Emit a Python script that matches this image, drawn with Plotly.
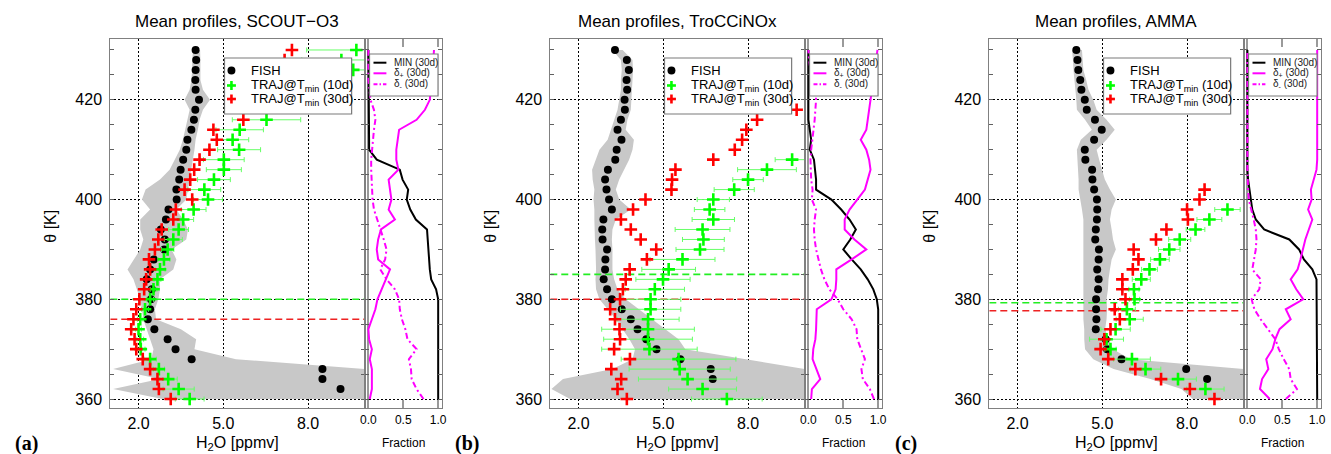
import plotly.graph_objects as go

# ---------------------------------------------------------------------------
# Data: potential temperature levels (K) and mean water vapour profiles (ppmv)
# ---------------------------------------------------------------------------
theta = list(range(360, 432, 2))

campaigns = ["SCOUT\u2212O3", "TroCCiNOx", "AMMA"]
panel_tags = ["(a)", "(b)", "(c)"]

main_ticks = [2.0, 5.0, 8.0]
main_ticktext = ["2.0", "5.0", "8.0"]
frac_ticks = [0.0, 0.5, 1.0]
frac_ticktext = ["0.0", "0.5", "1.0"]
theta_ticks = [360, 380, 400, 420]

legend_main = ["FISH", "TRAJ@T<sub>min</sub> (10d)", "TRAJ@T<sub>min</sub> (30d)"]
legend_frac = ["MIN (30d)", "\u03b4<sub>+</sub> (30d)", "\u03b4<sub>-</sub> (30d)"]

# --- SCOUT-O3 --------------------------------------------------------------
fish_scout = [None, 9.15, 8.51, 8.51, 3.88, 3.31, 3.03, 2.56, 2.33, 2.41,
              2.44, 2.47, 2.29, 2.41, 2.54, 2.91, 2.93, 2.79, 2.97, 3.06,
              3.35, 3.34, 3.44, 3.49, 3.58, 3.69, 3.73, 3.87, 3.96, 4.01,
              4.14, 4.02, 4.01, 4.02, 4.04, 4.02]
fish_lo_scout = [2.85, 1.10, 2.75, 1.10, 2.45, 2.53, 2.41, 2.29, 2.17, 2.12,
                 2.06, 1.94, 1.82, 1.61, 1.85, 2.06, 2.17, 2.06, 2.06, 2.41,
                 2.12, 2.25, 2.76, 3.10, 3.28, 3.46, 3.57, 3.66, 3.73, 3.81,
                 3.63, 3.81, 3.87, 3.90, 3.90, 3.93]
fish_hi_scout = [10.0, 10.0, 10.0, 10.0, 5.45, 3.98, 4.04, 3.50, 2.62, 2.58,
                 2.70, 2.76, 2.76, 3.23, 3.34, 3.17, 3.69, 3.75, 3.58, 3.34,
                 3.69, 3.75, 3.80, 3.85, 3.92, 3.98, 4.02, 4.10, 4.16, 4.28,
                 4.53, 4.28, 4.19, 4.19, 4.19, 4.18]
traj10_scout = [3.81, 3.42, 3.05, 2.72, 2.41, 2.08, 2.06, 2.00, 2.06, 2.23,
                2.41, 2.53, 2.67, 2.76, 2.90, 3.03, 3.23, 3.42, 3.58, 3.95,
                4.46, 4.33, 4.67, 5.02, 5.02, 5.56, 5.33, 5.58, 6.53, None,
                None, None, None, 9.60, 9.18, 9.71]
traj10_err_scout = [0.51, 0.55, 0.32, 0.20, 0.22, 0.15, 0.12, 0.10, 0.10, 0.12,
                    0.12, 0.12, 0.12, 0.18, 0.21, 0.22, 0.32, 0.35, 0.37, 0.44,
                    0.51, 0.58, 0.58, 0.62, 0.72, 0.76, 0.57, 0.84, 1.21, None,
                    None, None, None, 1.50, 1.40, 1.76]
traj30_scout = [3.14, 2.72, 2.67, 2.41, 2.15, 1.92, 1.86, 1.74, 1.82, 1.92,
                2.03, 2.20, 2.27, 2.41, 2.37, 2.58, 2.70, 2.82, 3.23, 3.32,
                3.90, 3.63, 3.83, 3.97, 4.16, 4.51, 4.77, 4.65, 5.71, None,
                None, None, None, None, 7.17, 7.43]
min_scout = [1.00, 1.00, 1.00, 1.00, 1.00, 1.00, 1.00, 1.00, 1.00, 1.00,
             1.00, 0.97, 0.90, 0.88, 0.87, 0.86, 0.85, 0.84, 0.68, 0.60,
             0.55, 0.57, 0.49, 0.45, 0.12, 0.01, 0.01, 0.01, 0.01, 0.00,
             0.00, 0.00, 0.00, 0.00, 0.00, 0.00]
dplus_scout = [0.02, 0.05, 0.05, 0.05, 0.02, 0.05, 0.01, 0.00, 0.05, 0.10,
               0.13, 0.19, 0.24, 0.31, 0.14, 0.12, 0.14, 0.18, 0.38, 0.29,
               0.33, 0.31, 0.29, 0.43, 0.40, 0.40, 0.42, 0.44, 0.69, 0.81,
               0.88, 0.90, 0.91, 0.92, 0.93, 0.94]
dminus_scout = [0.79, 0.69, 0.62, 0.61, 0.58, 0.69, 0.56, 0.53, 0.48, 0.45,
                0.44, 0.38, 0.26, 0.17, 0.24, 0.26, 0.22, 0.17, 0.12, 0.08,
                0.06, 0.05, 0.05, 0.04, 0.04, 0.05, 0.06, 0.08, 0.10, 0.08,
                0.03, 0.01, 0.00, 0.00, 0.00, 0.00]

# --- TroCCiNOx -------------------------------------------------------------
fish_troc = [None, None, 6.75, 6.68, 5.60, 4.76, 4.40, 4.09, 3.85, 3.53,
             3.18, 3.01, 2.89, 2.94, 2.95, 3.01, 2.85, 2.84, 2.88, 3.18,
             3.08, 2.99, 2.94, 3.04, 3.30, 3.35, 3.52, 3.38, 3.50, 3.64,
             3.63, 3.72, 3.70, 3.78, 3.71, 3.29]
fish_lo_troc = [1.70, 1.04, 1.45, 3.20, 3.91, 4.00, 3.80, 3.56, 3.32, 3.03,
                2.74, 2.62, 2.60, 2.62, 2.62, 2.60, 2.58, 2.56, 2.56, 2.56,
                2.53, 2.56, 2.50, 2.48, 2.62, 2.74, 3.03, 3.15, 3.26, 3.38,
                3.44, 3.50, 3.50, 3.53, 3.50, 3.20]
fish_hi_troc = [10.0, 10.0, 10.0, 10.0, 7.88, 5.78, 5.54, 5.07, 4.61, 4.14,
                3.67, 3.38, 3.26, 3.20, 3.20, 3.20, 3.18, 3.20, 3.32, 3.85,
                3.44, 3.32, 3.44, 3.61, 3.79, 3.91, 3.96, 3.67, 3.73, 3.85,
                3.85, 3.88, 3.91, 3.93, 3.91, 3.56]
traj10_troc = [7.25, 6.39, 5.86, 5.58, 5.54, 4.51, 4.46, 4.46, 4.46, 4.55,
               4.55, 4.70, 4.99, 5.19, 5.68, 6.30, 6.42, 6.39, 6.77, 6.64,
               6.77, 7.51, 8.00, 8.67, 9.56, None, None, None, None, None,
               None, None, None, None, None, None]
traj10_err_troc = [1.25, 1.20, 1.74, 1.79, 2.03, 1.69, 1.57, 1.64, 1.10, 1.07,
                   1.07, 1.05, 0.96, 0.95, 1.15, 0.85, 0.74, 0.97, 0.75, 0.54,
                   0.57, 0.71, 0.54, 1.04, 0.60, None, None, None, None, None,
                   None, None, None, None, None, None]
traj30_troc = [3.71, 3.38, 3.51, 3.16, 3.82, 3.26, 3.47, 3.45, 3.29, 3.12,
               3.47, 3.57, 3.67, 3.81, 4.42, 4.75, 4.20, 3.85, 3.50, 3.93,
               4.37, 5.29, 5.31, 5.43, 6.77, 7.53, 7.79, 7.94, 8.32, 9.72,
               None, None, None, None, None, None]
min_troc = [1.00, 1.00, 1.00, 1.00, 1.00, 1.00, 1.00, 1.00, 1.00, 1.00,
            0.98, 0.93, 0.85, 0.75, 0.62, 0.50, 0.60, 0.68, 0.59, 0.47,
            0.33, 0.11, 0.11, 0.10, 0.08, 0.02, 0.04, 0.02, 0.00, 0.00,
            0.00, 0.00, 0.00, 0.00, 0.00, 0.00]
dplus_troc = [0.04, 0.05, 0.17, 0.11, 0.06, 0.07, 0.10, 0.11, 0.12, 0.12,
              0.33, 0.39, 0.40, 0.40, 0.62, 0.83, 0.66, 0.52, 0.52, 0.59,
              0.70, 0.81, 0.85, 0.89, 0.87, 0.83, 0.75, 0.83, 0.85, 0.87,
              0.88, 0.90, 0.93, 0.95, 0.97, 0.99]
dminus_troc = [0.94, 0.88, 0.78, 0.76, 0.81, 0.75, 0.70, 0.69, 0.62, 0.50,
               0.42, 0.30, 0.23, 0.18, 0.14, 0.11, 0.09, 0.08, 0.09, 0.11,
               0.05, 0.06, 0.04, 0.03, 0.03, 0.04, 0.06, 0.08, 0.09, 0.10,
               0.11, 0.10, 0.06, 0.03, 0.01, 0.00]

# --- AMMA ------------------------------------------------------------------
fish_amma = [None, None, 8.71, 7.97, 5.68, 5.17, 5.12, 4.77, 4.79, 4.78,
             4.78, 4.85, 4.87, 4.82, 4.87, 4.88, 4.75, 4.77, 4.81, 4.82,
             4.81, 4.71, 4.65, 4.64, 4.40, 4.38, 4.71, 4.98, 4.74, 4.45,
             4.38, 4.26, 4.22, 4.15, 4.12, 4.08]
fish_lo_amma = [8.20, 7.80, 6.70, 5.40, 4.68, 4.39, 4.36, 4.36, 4.33, 4.33,
                4.33, 4.33, 4.33, 4.33, 4.31, 4.31, 4.33, 4.33, 4.33, 4.28,
                4.22, 4.16, 4.16, 4.14, 4.10, 4.10, 4.24, 4.63, 4.39, 4.10,
                4.08, 4.04, 4.02, 3.98, 3.96, 3.93]
fish_hi_amma = [10.0, 10.0, 10.0, 10.0, 6.00, 5.38, 5.22, 5.10, 5.15, 5.17,
                5.15, 5.20, 5.22, 5.27, 5.33, 5.48, 5.38, 5.33, 5.27, 5.33,
                5.48, 5.27, 5.09, 4.98, 4.89, 4.80, 5.15, 5.44, 5.15, 4.80,
                4.68, 4.51, 4.43, 4.33, 4.31, 4.28]
traj10_amma = [None, 8.65, 7.68, 6.53, 6.05, 5.29, 5.15, 5.47, 5.97, 5.87,
               6.14, 6.12, 6.38, 6.67, 7.04, 7.37, 7.74, 8.30, 8.79, 9.43,
               None, None, None, None, None, None, None, None, None, None,
               None, None, None, None, None, None]
traj10_err_amma = [None, 0.66, 0.65, 0.54, 0.65, 0.20, 0.60, 0.52, 0.48, 0.30,
                   0.18, 0.18, 0.32, 0.28, 0.33, 0.38, 0.39, 0.33, 0.44, 0.45,
                   None, None, None, None, None, None, None, None, None, None,
                   None, None, None, None, None, None]
traj30_amma = [8.97, 8.10, 7.08, 6.17, 5.21, 4.94, 5.07, 5.29, 5.62, 5.44,
               5.82, 5.71, 5.71, 6.08, 6.28, 6.11, 6.90, 7.27, 8.03, 8.00,
               8.44, 8.62, None, None, None, None, None, None, None, None,
               None, None, None, None, None, None]
min_amma = [1.00, 1.00, 1.00, 1.00, 1.00, 1.00, 1.00, 1.00, 1.00, 1.00,
            1.00, 1.00, 0.99, 0.93, 0.81, 0.74, 0.60, 0.24, 0.12, 0.07,
            0.05, 0.02, 0.01, 0.00, 0.00, 0.00, 0.00, 0.00, 0.00, 0.00,
            0.00, 0.00, 0.00, 0.00, 0.00, 0.00]
dplus_amma = [0.32, 0.18, 0.21, 0.30, 0.27, 0.36, 0.40, 0.46, 0.62, 0.55,
              0.80, 0.70, 0.62, 0.72, 0.76, 0.79, 0.83, 0.88, 0.93, 0.87,
              0.92, 0.91, 0.95, 0.99, 1.00, 1.00, 1.00, 1.00, 1.00, 1.00,
              1.00, 1.00, 1.00, 1.00, 1.00, 1.00]
dminus_amma = [0.55, 0.71, 0.62, 0.60, 0.52, 0.45, 0.40, 0.29, 0.19, 0.10,
               0.06, 0.17, 0.19, 0.07, 0.10, 0.12, 0.13, 0.12, 0.09, 0.06,
               0.02, 0.01, 0.00, 0.00, 0.00, 0.00, 0.00, 0.00, 0.00, 0.00,
               0.00, 0.00, 0.00, 0.00, 0.00, 0.00]

# Levels of the cut-offs for both trajectory lengths (K)
cut_10d = [380.0, 385.0, 379.3]
cut_30d = [376.0, 380.0, 377.7]

panels = [
    dict(fish=fish_scout, lo=fish_lo_scout, hi=fish_hi_scout, t10=traj10_scout,
         e10=traj10_err_scout, t30=traj30_scout, mn=min_scout, dp=dplus_scout,
         dm=dminus_scout),
    dict(fish=fish_troc, lo=fish_lo_troc, hi=fish_hi_troc, t10=traj10_troc,
         e10=traj10_err_troc, t30=traj30_troc, mn=min_troc, dp=dplus_troc,
         dm=dminus_troc),
    dict(fish=fish_amma, lo=fish_lo_amma, hi=fish_hi_amma, t10=traj10_amma,
         e10=traj10_err_amma, t30=traj30_amma, mn=min_amma, dp=dplus_amma,
         dm=dminus_amma),
]

# ---------------------------------------------------------------------------
# Geometry (pixels) and styles
# ---------------------------------------------------------------------------
W, H = 1331, 454
PANEL_LEFT = [107, 550, 992]
MAIN_W, FRAC_W = 256, 78
TOP, BOTTOM = 39, 408
X_RANGE = [1.0, 10.0]
F_RANGE = [-0.055, 1.055]
Y_RANGE = [358.2, 432.2]

FONT = "Liberation Sans, Arial, sans-serif"
GREEN = "#00ff00"
GREEN_ERR = "#66ff66"
RED = "#ff0000"
MAGENTA = "#ff00ff"
BAND = "#c8c8c8"
FRAME = "#808080"
GRID_DASH = "2px,2px"


def px(x):
    return x / W


def py(y):
    return 1 - y / H


def ax_names(k):
    return ("xaxis" if k == 1 else f"xaxis{k}",
            "yaxis" if k == 1 else f"yaxis{k}",
            "x" if k == 1 else f"x{k}",
            "y" if k == 1 else f"y{k}")


fig = go.Figure()
layout = dict(
    width=W, height=H,
    margin=dict(l=0, r=0, t=0, b=0),
    paper_bgcolor="white", plot_bgcolor="white",
    showlegend=False,
    font=dict(family=FONT, color="black"),
)
shapes, annotations = [], []
ydom = [py(BOTTOM), py(TOP)]

for i, p in enumerate(panels):
    x0 = PANEL_LEFT[i]
    f0 = x0 + MAIN_W
    km, kf = 2 * i + 1, 2 * i + 2
    xa_m, ya_m, xr_m, yr_m = ax_names(km)
    xa_f, ya_f, xr_f, yr_f = ax_names(kf)

    # ---- axes of the profile panel
    layout[xa_m] = dict(
        domain=[px(x0), px(f0)], range=X_RANGE, anchor=yr_m,
        tickmode="array", tickvals=main_ticks, ticktext=main_ticktext,
        showgrid=True, gridcolor="black", griddash=GRID_DASH, gridwidth=1,
        zeroline=False, showline=True, linecolor=FRAME, linewidth=1,
        mirror=True, ticks="", tickfont=dict(size=16, family=FONT),
        ticklabelstandoff=1, fixedrange=True,
    )
    layout[ya_m] = dict(
        domain=ydom, range=Y_RANGE, anchor=xr_m,
        tickmode="array", tickvals=theta_ticks,
        showgrid=True, gridcolor="black", griddash=GRID_DASH, gridwidth=1,
        zeroline=False, showline=True, linecolor=FRAME, linewidth=1,
        mirror="ticks", ticks="inside", ticklen=4, tickcolor="#606060",
        minor=dict(tickmode="linear", tick0=360, dtick=5, ticks="inside",
                   ticklen=4, tickcolor="#606060"),
        tickfont=dict(size=16, family=FONT), ticklabelstandoff=4,
        fixedrange=True,
    )
    # ---- axes of the fraction panel
    layout[xa_f] = dict(
        domain=[px(f0), px(f0 + FRAC_W)], range=F_RANGE, anchor=yr_f,
        tickmode="array", tickvals=frac_ticks, ticktext=frac_ticktext,
        showgrid=False, zeroline=True, zerolinecolor="#9a9a9a",
        zerolinewidth=1.5, showline=True, linecolor=FRAME, linewidth=1,
        mirror="ticks", ticks="inside", ticklen=8, tickwidth=1.5,
        tickcolor="#9a9a9a", tickfont=dict(size=12, family=FONT),
        ticklabelstandoff=1, fixedrange=True,
    )
    layout[ya_f] = dict(
        domain=ydom, range=Y_RANGE, anchor=xr_f,
        tickmode="array", tickvals=theta_ticks, showticklabels=False,
        showgrid=True, gridcolor="black", griddash=GRID_DASH, gridwidth=1,
        zeroline=False, showline=True, linecolor=FRAME, linewidth=1,
        mirror="ticks", ticks="inside", ticklen=4, tickcolor="#606060",
        minor=dict(tickmode="linear", tick0=360, dtick=5, ticks="inside",
                   ticklen=4, tickcolor="#606060"),
        fixedrange=True,
    )

    # ---- FISH variability band
    fig.add_trace(go.Scatter(
        x=p["lo"] + p["hi"][::-1], y=theta + theta[::-1],
        xaxis=xr_m, yaxis=yr_m, mode="lines", fill="toself",
        fillcolor=BAND, line=dict(width=0), hoverinfo="skip",
    ))
    # ---- cut-off levels
    fig.add_trace(go.Scatter(
        x=X_RANGE, y=[cut_10d[i], cut_10d[i]], xaxis=xr_m, yaxis=yr_m,
        mode="lines", line=dict(color="#22ee22", width=1.6, dash="7px,4px"),
        hoverinfo="skip",
    ))
    fig.add_trace(go.Scatter(
        x=X_RANGE, y=[cut_30d[i], cut_30d[i]], xaxis=xr_m, yaxis=yr_m,
        mode="lines", line=dict(color="#ee2222", width=1.6, dash="7px,4px"),
        hoverinfo="skip",
    ))
    # ---- FISH mean profile
    fig.add_trace(go.Scatter(
        x=p["fish"], y=theta, xaxis=xr_m, yaxis=yr_m, mode="markers",
        marker=dict(symbol="circle", size=8, color="black"), name=legend_main[0],
    ))
    # ---- trajectory reconstructions
    fig.add_trace(go.Scatter(
        x=p["t10"], y=theta, xaxis=xr_m, yaxis=yr_m, mode="markers",
        marker=dict(symbol="cross-thin", size=9,
                    line=dict(width=2.6, color=GREEN)),
        error_x=dict(type="data", array=p["e10"], color=GREEN_ERR,
                     thickness=1, width=2.5),
        name=legend_main[1],
    ))
    fig.add_trace(go.Scatter(
        x=p["t30"], y=theta, xaxis=xr_m, yaxis=yr_m, mode="markers",
        marker=dict(symbol="cross-thin", size=9,
                    line=dict(width=2.6, color=RED)),
        name=legend_main[2],
    ))
    # ---- fractions
    fig.add_trace(go.Scatter(
        x=p["mn"], y=theta, xaxis=xr_f, yaxis=yr_f, mode="lines",
        line=dict(color="black", width=2), name=legend_frac[0],
    ))
    fig.add_trace(go.Scatter(
        x=p["dp"], y=theta, xaxis=xr_f, yaxis=yr_f, mode="lines",
        line=dict(color=MAGENTA, width=2), name=legend_frac[1],
    ))
    fig.add_trace(go.Scatter(
        x=p["dm"], y=theta, xaxis=xr_f, yaxis=yr_f, mode="lines",
        line=dict(color=MAGENTA, width=2, dash="6px,3px,2px,3px"),
        name=legend_frac[2],
    ))

    # ---- profile legend box
    bx0, bx1, by0, by1 = x0 + 115, x0 + 243, 58, 114
    shapes.append(dict(type="rect", xref="paper", yref="paper", layer="above",
                       x0=px(bx0), x1=px(bx1), y0=py(by1), y1=py(by0),
                       fillcolor="white", line=dict(color="#7a7a7a", width=1.2)))
    rows = [70.5, 85.5, 99.0]
    mx = x0 + 122
    shapes.append(dict(type="circle", xref="paper", yref="paper", layer="above",
                       x0=px(mx - 4), x1=px(mx + 4), y0=py(rows[0] + 4),
                       y1=py(rows[0] - 4), fillcolor="black",
                       line=dict(color="black", width=0)))
    for row, col in ((rows[1], GREEN), (rows[2], RED)):
        shapes.append(dict(type="line", xref="paper", yref="paper", layer="above",
                           x0=px(mx - 4.5), x1=px(mx + 4.5), y0=py(row), y1=py(row),
                           line=dict(color=col, width=2.6)))
        shapes.append(dict(type="line", xref="paper", yref="paper", layer="above",
                           x0=px(mx), x1=px(mx), y0=py(row - 4.5), y1=py(row + 4.5),
                           line=dict(color=col, width=2.6)))
    for row, txt in zip(rows, legend_main):
        annotations.append(dict(xref="paper", yref="paper", x=px(x0 + 140),
                                y=py(row), text=txt, showarrow=False,
                                xanchor="left", yanchor="middle",
                                font=dict(size=13, family=FONT, color="black")))

    # ---- fraction legend box
    fx0, fx1, fy0, fy1 = f0 + 5, f0 + 74, 54, 96
    shapes.append(dict(type="rect", xref="paper", yref="paper", layer="above",
                       x0=px(fx0), x1=px(fx1), y0=py(fy1), y1=py(fy0),
                       fillcolor="white", line=dict(color="#7a7a7a", width=1.2)))
    frows = [62.7, 73.3, 84.3]
    styles = [("black", "solid"), (MAGENTA, "solid"), (MAGENTA, "4px,2px,1.5px,2px")]
    for row, (col, dash), txt in zip(frows, styles, legend_frac):
        shapes.append(dict(type="line", xref="paper", yref="paper", layer="above",
                           x0=px(f0 + 9), x1=px(f0 + 22), y0=py(row), y1=py(row),
                           line=dict(color=col, width=2, dash=dash)))
        annotations.append(dict(xref="paper", yref="paper", x=px(f0 + 28),
                                y=py(row), text=txt, showarrow=False,
                                xanchor="left", yanchor="middle",
                                font=dict(size=10, family=FONT, color="#222222")))

    # ---- titles and axis labels
    annotations.append(dict(xref="paper", yref="paper", x=px(x0 + MAIN_W / 2),
                            y=py(21), text=f"Mean profiles, {campaigns[i]}",
                            showarrow=False, xanchor="center", yanchor="middle",
                            font=dict(size=17, family=FONT, color="black")))
    annotations.append(dict(xref="paper", yref="paper", x=px(x0 + MAIN_W / 2),
                            y=py(443), text="H<sub>2</sub>O [ppmv]",
                            showarrow=False, xanchor="center", yanchor="middle",
                            font=dict(size=16, family=FONT, color="black")))
    annotations.append(dict(xref="paper", yref="paper", x=px(f0 + FRAC_W / 2),
                            y=py(443), text="Fraction", showarrow=False,
                            xanchor="center", yanchor="middle",
                            font=dict(size=12, family=FONT, color="black")))
    annotations.append(dict(xref="paper", yref="paper", x=px(x0 - 61),
                            y=py(226), text="\u03b8 [K]", textangle=-90,
                            showarrow=False, xanchor="center", yanchor="middle",
                            font=dict(size=16, family=FONT, color="black")))
    annotations.append(dict(xref="paper", yref="paper", x=px(x0 - 84),
                            y=py(443), text=f"<b>{panel_tags[i]}</b>",
                            showarrow=False, xanchor="center", yanchor="middle",
                            font=dict(size=20, family="Liberation Serif, serif",
                                      color="black")))

layout["shapes"] = shapes
layout["annotations"] = annotations
fig.update_layout(**layout)
fig.write_html("out.html")
